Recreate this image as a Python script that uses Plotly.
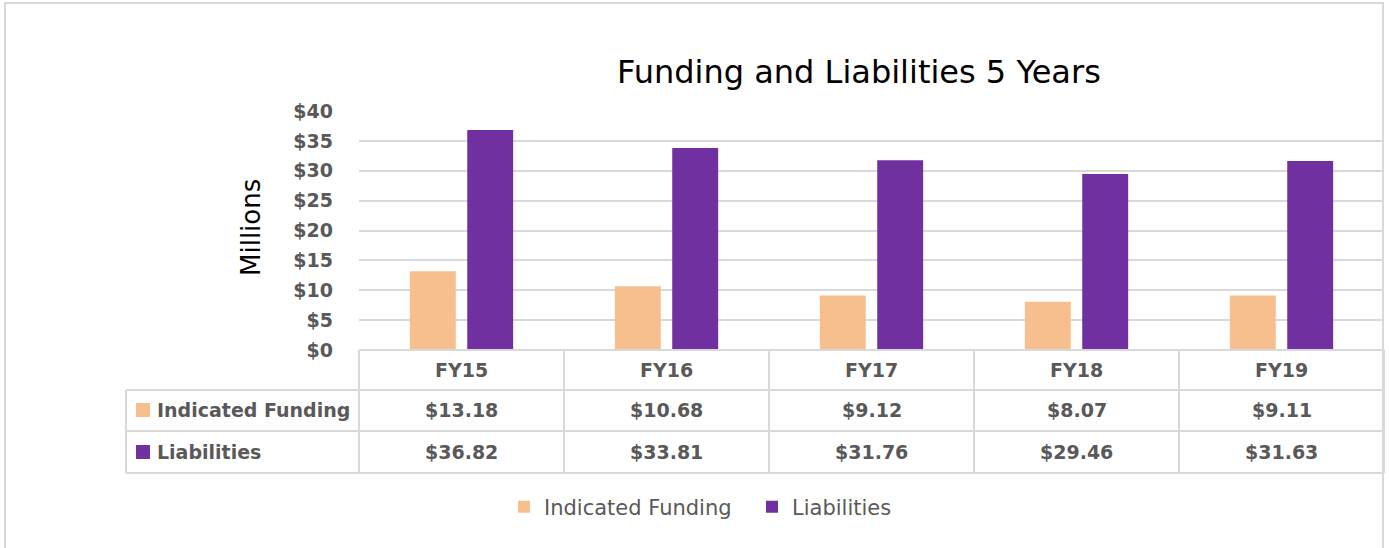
import plotly.graph_objects as go

categories = ["FY15", "FY16", "FY17", "FY18", "FY19"]
funding = [13.18, 10.68, 9.12, 8.07, 9.11]
liabilities = [36.82, 33.81, 31.76, 29.46, 31.63]
series_names = ["Indicated Funding", "Liabilities"]
y_ticks = [0, 5, 10, 15, 20, 25, 30, 35, 40]
title_text = "Funding and Liabilities 5 Years"
y_title = "Millions"

ORANGE = "#F8BF8E"
PURPLE = "#7030A0"
GRID = "#D9D9D9"
TXT = "#595959"
FONT = "'DejaVu Sans', Verdana, sans-serif"

W, H = 1389, 548
# plot area in screen pixels
L, R, T, B = 359, 1384, 111, 350


def px(x):
    return (x - L) / (R - L)


def py(y):
    return (B - y) / (B - T)


fig = go.Figure()
fig.add_trace(go.Bar(x=categories, y=funding, name=series_names[0],
                     marker=dict(color=ORANGE, line=dict(width=0))))
fig.add_trace(go.Bar(x=categories, y=liabilities, name=series_names[1],
                     marker=dict(color=PURPLE, line=dict(width=0))))

shapes = []
line = dict(color=GRID, width=2)
# outer border
shapes.append(dict(type="rect", xref="paper", yref="paper",
                   x0=px(5), x1=px(1383), y0=py(560), y1=py(3),
                   line=dict(color=GRID, width=2), fillcolor="rgba(0,0,0,0)", layer="below"))
# table horizontal lines
row_y = [350, 390, 431, 473]
for i, yy in enumerate(row_y):
    x0 = L if i == 0 else 126
    shapes.append(dict(type="line", xref="paper", yref="paper",
                       x0=px(x0), x1=px(R), y0=py(yy), y1=py(yy), line=line))
# table vertical lines
n = len(categories)
for i in range(n + 1):
    xx = L + i * (R - L) / n
    shapes.append(dict(type="line", xref="paper", yref="paper",
                       x0=px(xx), x1=px(xx), y0=py(350), y1=py(473), line=line))
shapes.append(dict(type="line", xref="paper", yref="paper",
                   x0=px(126), x1=px(126), y0=py(390), y1=py(473), line=line))
# row legend keys
for yc, col in [(410, ORANGE), (452, PURPLE)]:
    shapes.append(dict(type="rect", xref="paper", yref="paper",
                       x0=px(136), x1=px(150), y0=py(yc + 7), y1=py(yc - 7),
                       fillcolor=col, line=dict(width=0)))

annotations = []
tfont = dict(family=FONT, size=19, color=TXT, weight="bold")
for i, c in enumerate(categories):
    annotations.append(dict(x=c, xref="x", y=py(370), yref="paper", text=c,
                            showarrow=False, font=tfont, xanchor="center", yanchor="middle"))
    annotations.append(dict(x=c, xref="x", y=py(410), yref="paper", text=f"${funding[i]:.2f}",
                            showarrow=False, font=tfont, xanchor="center", yanchor="middle"))
    annotations.append(dict(x=c, xref="x", y=py(452), yref="paper", text=f"${liabilities[i]:.2f}",
                            showarrow=False, font=tfont, xanchor="center", yanchor="middle"))
for name, yc in zip(series_names, [410, 452]):
    annotations.append(dict(x=px(155), xref="paper", y=py(yc), yref="paper", text=name,
                            showarrow=False, font=tfont, xanchor="left", yanchor="middle"))
annotations.append(dict(x=px(251), xref="paper", y=py(228), yref="paper", text=y_title,
                        textangle=-90, showarrow=False,
                        font=dict(family=FONT, size=26, color="#000000"),
                        xanchor="center", yanchor="middle"))
annotations.append(dict(x=px(859), xref="paper", y=py(72), yref="paper", text=title_text,
                        showarrow=False, font=dict(family=FONT, size=32, color="#000000"),
                        xanchor="center", yanchor="middle"))

fig.update_layout(
    width=W, height=H,
    margin=dict(l=L, r=W - R, t=T, b=H - B, pad=0),
    paper_bgcolor="white", plot_bgcolor="white",
    barmode="group", bargap=0.44, bargroupgap=0.2,
    shapes=shapes, annotations=annotations,
    showlegend=True,
    legend=dict(orientation="h", x=px(504), xanchor="left", y=py(507), yanchor="middle",
                font=dict(family=FONT, size=21, color=TXT), traceorder="normal",
                entrywidth=203, entrywidthmode="pixels",
                itemclick=False, itemdoubleclick=False),
    xaxis=dict(showticklabels=False, showgrid=False, zeroline=False, showline=False, ticks=""),
    yaxis=dict(range=[0, 40], tickvals=y_ticks, ticktext=[f"${v}" for v in y_ticks],
               showgrid=True, gridcolor=GRID, gridwidth=2, zeroline=False, showline=False,
               ticks="", ticklabelstandoff=25,
               tickfont=dict(family=FONT, size=19, color=TXT, weight="bold")),
)

fig.write_html("out.html", config={"displayModeBar": False},
               post_script="document.body.style.margin='0';document.body.style.overflow='hidden';")
